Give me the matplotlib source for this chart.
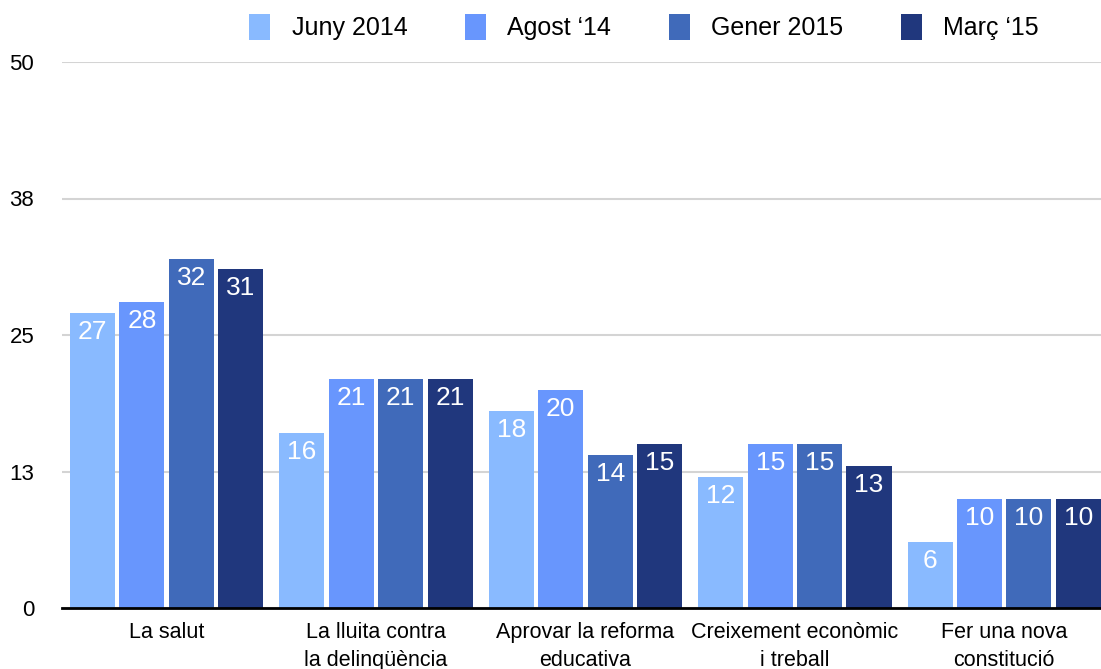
import matplotlib
matplotlib.use("Agg")
import matplotlib.pyplot as plt
import numpy as np

categories = ["La salut", "La lluita contra\nla delinqüència", "Aprovar la reforma\neducativa",
              "Creixement econòmic\ni treball", "Fer una nova\nconstitució"]
series_names = ["Juny 2014", "Agost \u201814", "Gener 2015", "Març \u201815"]
juny_2014 = [27, 16, 18, 12, 6]
agost_14 = [28, 21, 20, 15, 10]
gener_2015 = [32, 21, 14, 15, 10]
marc_15 = [31, 21, 15, 13, 10]
yticks = [0, 12.5, 25, 37.5, 50]
ytick_labels = ["0", "13", "25", "38", "50"]

colors = ["#89BAFF", "#6896FD", "#406ABA", "#20377D"]

plt.rcParams['font.family'] = ['Liberation Sans', 'DejaVu Sans']

fig = plt.figure(figsize=(11.01, 6.69), dpi=100)
W, H = 1101, 669
ax = fig.add_axes([62 / W, 61 / H, (W - 62) / W, (608 - 62) / H])

series = [juny_2014, agost_14, gener_2015, marc_15]
x = np.arange(len(categories))
pitch = 0.236
bw = 0.215
for i, (vals, name, c) in enumerate(zip(series, series_names, colors)):
    pos = x + (i - 1.5) * pitch
    bars = ax.bar(pos, vals, width=bw, color=c, label=name, zorder=3)
    for b, v in zip(bars, vals):
        ax.annotate(str(v), (b.get_x() + b.get_width() / 2, v), xytext=(0, -5),
                    textcoords="offset points", ha="center", va="top",
                    color="white", fontsize=19, zorder=4)

ax.set_ylim(0, 50)
ax.set_xlim(-0.5, 4.462)
ax.set_yticks(yticks)
ax.set_yticklabels(ytick_labels, fontsize=16)
ax.set_xticks(x)
ax.set_xticklabels(categories, fontsize=15.5, linespacing=1.45)
ax.tick_params(axis="both", length=0)
ax.tick_params(axis="y", pad=20)
ax.tick_params(axis="x", pad=10)
ax.yaxis.grid(True, color="#d4d4d4", linewidth=1.5, zorder=0)
ax.set_axisbelow(True)
for s in ["top", "right", "left"]:
    ax.spines[s].set_visible(False)
ax.spines["bottom"].set_linewidth(2)
ax.spines["bottom"].set_color("black")
ax.spines["bottom"].set_zorder(5)

fig.legend(loc="center", bbox_to_anchor=(644 / W, 1 - 27 / H), ncol=4, frameon=False,
           fontsize=18, handlelength=0.85, handleheight=1.25, handletextpad=0.85,
           columnspacing=2.3)

fig.savefig("out.png", dpi=100)
